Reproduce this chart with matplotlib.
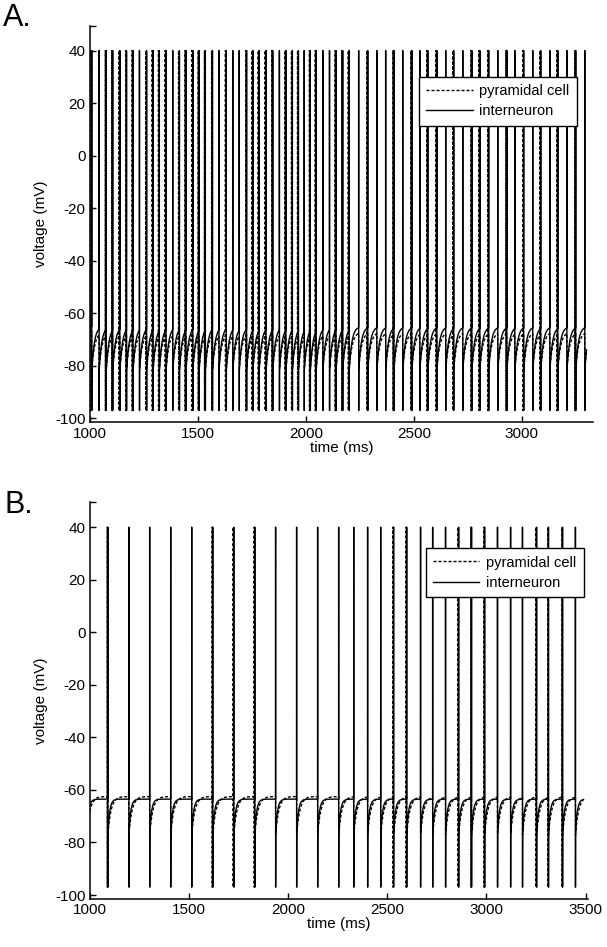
import numpy as np
import matplotlib
matplotlib.use("Agg")
import matplotlib.pyplot as plt
from matplotlib.lines import Line2D

plt.rcParams['font.family'] = ['Liberation Sans', 'DejaVu Sans']
plt.rcParams['axes.unicode_minus'] = False

# ---------------- data ----------------
# Panel A: spike times (ms)
a_inter_spikes = [1009, 1043, 1076, 1106, 1139, 1170, 1200, 1230, 1263, 1293, 1322, 1353,
                  1384, 1415, 1445, 1477, 1506, 1535, 1568, 1598, 1632, 1662, 1692, 1726,
                  1755, 1784, 1816, 1847, 1878, 1908, 1938, 1966, 1993, 2021, 2048, 2079,
                  2110, 2140, 2171, 2201, 2245, 2287, 2329, 2370, 2408, 2449, 2491, 2528,
                  2565, 2607, 2648, 2685, 2727, 2769, 2806, 2847, 2889, 2931, 2968, 3009,
                  3051, 3088, 3130, 3167, 3209, 3250, 3292]
a_pyr_spikes = [1005, 1072, 1102, 1135, 1166, 1196, 1259, 1289, 1318, 1349, 1411, 1441,
                1473, 1502, 1531, 1564, 1628, 1722, 1751, 1780, 1812, 1843, 1904, 1934,
                1962, 2017, 2044, 2136, 2167, 2197, 2283, 2404, 2487, 2561, 2603, 2681,
                2765, 2802, 2843, 2927, 3005, 3084, 3163, 3246]
a_t_range = [1000, 3300]

# Panel B: spike times (ms)
b_inter_spikes = [985, 1091, 1197, 1302, 1408, 1514, 1620, 1726, 1832, 1937, 2043, 2149,
                  2255, 2331, 2401, 2467, 2532, 2598, 2668, 2729, 2794, 2860, 2925, 2991,
                  3056, 3122, 3182, 3253, 3313, 3384, 3449]
b_pyr_spikes = [1088, 1617, 1723, 1829, 2529, 2595, 2857, 2922, 2988, 3250, 3310, 3381]
b_t_range = [1000, 3490]

# membrane levels (mV): peak, trough, interneuron plateau / AHP, pyramidal plateau / IPSP
a_levels = dict(peak=40, trough=-97, i_plat=-65, i_ahp=-82, e_plat=-67, e_ipsp=-81)
b_levels = dict(peak=40, trough=-97, i_plat=-63.5, i_ahp=-77, e_plat=-62.5, e_ipsp=-77)

xticks_a = [1000, 1500, 2000, 2500, 3000]
xticks_b = [1000, 1500, 2000, 2500, 3000, 3500]
yticks = [-100, -80, -60, -40, -20, 0, 20, 40]


def traces(inter, pyr, trange, lv, tau_i=10.0, tau_e=14.0, dt=0.25):
    t = np.arange(trange[0] - 150, trange[1], dt)
    inter = np.array(inter, float)
    pyr = np.array(pyr, float)
    idx = np.searchsorted(inter, t, side='right') - 1
    since = np.where(idx >= 0, t - inter[np.clip(idx, 0, None)], 1e4)
    vi = lv['i_plat'] - (lv['i_plat'] - lv['i_ahp']) * np.exp(-since / tau_i)
    ve = lv['e_plat'] - (lv['e_plat'] - lv['e_ipsp']) * np.exp(-since / tau_e)
    for s in inter:
        k = int(round((s - t[0]) / dt))
        if 1 <= k < len(t) - 2:
            vi[k - 1] = lv['peak']
            vi[k] = lv['trough']
    for s in pyr:
        k = int(round((s - t[0]) / dt))
        if 1 <= k < len(t) - 2:
            ve[k] = lv['peak']
            ve[k + 1] = lv['trough']
    return t, vi, ve


fig = plt.figure(figsize=(6.07, 9.47), dpi=100)
ax_a = fig.add_axes([0.148, 0.554, 0.829, 0.419])
ax_b = fig.add_axes([0.148, 0.0507, 0.820, 0.419])

panels = [
    (ax_a, a_inter_spikes, a_pyr_spikes, a_t_range, a_levels, xticks_a, (1000, 3330), 12.0, 14.0,
     (0.968, 0.8715)),
    (ax_b, b_inter_spikes, b_pyr_spikes, b_t_range, b_levels, xticks_b, (1000, 3510), 9.0, 16.0,
     (0.992, 0.884)),
]

for ax, isp, psp, tr, lv, xt, xl, ti, te, lg in panels:
    t, vi, ve = traces(isp, psp, tr, lv, tau_i=ti, tau_e=te)
    m = t >= tr[0]
    ax.plot(t[m], ve[m], color='black', lw=1.0, dashes=(2.2, 1.4))
    ax.plot(t[m], vi[m], color='black', lw=1.0)
    ax.set_xlim(*xl)
    ax.set_ylim(-101.5, 49.5)
    ax.set_xticks(xt)
    ax.set_yticks(yticks)
    ax.set_yticks([49.5], minor=True)
    ax.tick_params(direction='in', length=4, width=1, labelsize=11, pad=3)
    ax.tick_params(axis='y', which='minor', direction='in', length=4, width=1)
    for s in ['top', 'right']:
        ax.spines[s].set_visible(False)
    for s in ['left', 'bottom']:
        ax.spines[s].set_linewidth(1.1)
    ax.set_xlabel('time (ms)', fontsize=11, labelpad=0)
    ax.set_ylabel('voltage (mV)', fontsize=11, labelpad=5)
    handles = [Line2D([], [], color='black', lw=1.0, dashes=(2.2, 1.4)),
               Line2D([], [], color='black', lw=1.0)]
    leg = ax.legend(handles, ['pyramidal cell', 'interneuron'], loc='upper right',
                    bbox_to_anchor=lg, borderaxespad=0, fontsize=10.5, fancybox=False,
                    framealpha=1, edgecolor='black', handlelength=3.2, handletextpad=0.45,
                    labelspacing=0.45, borderpad=0.5, borderaxespad_=None) if False else \
        ax.legend(handles, ['pyramidal cell', 'interneuron'], loc='upper right',
                  bbox_to_anchor=lg, borderaxespad=0, fontsize=10.5, fancybox=False,
                  framealpha=1, edgecolor='black', handlelength=3.2, handletextpad=0.45,
                  labelspacing=0.45, borderpad=0.5)
    leg.get_frame().set_linewidth(1.0)

fig.text(0.005, 0.997, 'A.', fontsize=22, va='top', ha='left')
fig.text(0.008, 0.483, 'B.', fontsize=22, va='top', ha='left')

fig.savefig('out.png', dpi=100)
